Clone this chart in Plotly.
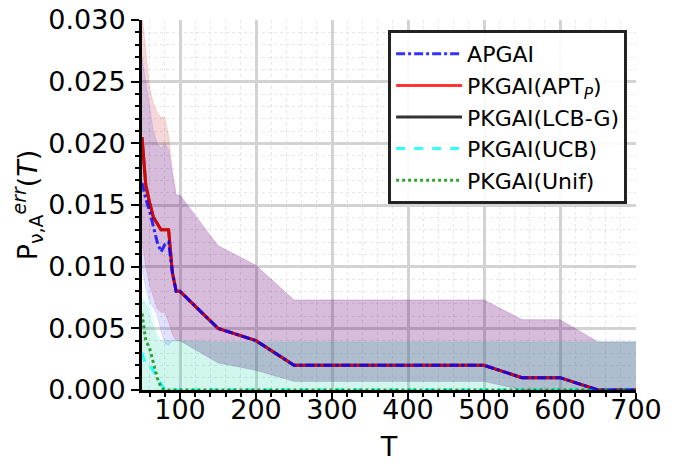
import plotly.graph_objects as go

# horizon T
T = [50, 55, 60, 65, 70, 75, 80, 85, 90, 95, 100,
     150, 200, 250, 300, 350, 400, 450, 500, 550, 600, 650, 700]

# mean error probability per algorithm
apgai = [0.0168, 0.0155, 0.0145, 0.0133, 0.0120, 0.0112, 0.0118, 0.0120, 0.0095, 0.0080, 0.0080,
         0.0050, 0.0040, 0.0020, 0.0020, 0.0020, 0.0020, 0.0020, 0.0020, 0.0010, 0.0010, 0.0, 0.0]
apt_p = [0.0205, 0.0166, 0.0152, 0.0140, 0.0135, 0.0130, 0.0130, 0.0130, 0.0095, 0.0080, 0.0080,
         0.0050, 0.0040, 0.0020, 0.0020, 0.0020, 0.0020, 0.0020, 0.0020, 0.0010, 0.0010, 0.0, 0.0]
lcb_g = [0.0205, 0.0166, 0.0152, 0.0140, 0.0135, 0.0130, 0.0130, 0.0130, 0.0095, 0.0080, 0.0080,
         0.0050, 0.0040, 0.0020, 0.0020, 0.0020, 0.0020, 0.0020, 0.0020, 0.0010, 0.0010, 0.0, 0.0]
ucb = [0.0030, 0.0020, 0.0020, 0.0016, 0.0011, 0.0005, 0.0, 0.0, 0.0, 0.0, 0.0,
       0.0, 0.0, 0.0, 0.0, 0.0, 0.0, 0.0, 0.0, 0.0, 0.0, 0.0, 0.0]
unif = [0.0062, 0.0040, 0.0034, 0.0022, 0.0010, 0.0002, 0.0, 0.0, 0.0, 0.0, 0.0,
        0.0, 0.0, 0.0, 0.0, 0.0, 0.0, 0.0, 0.0, 0.0, 0.0, 0.0, 0.0]

# spread bands (lower / upper)
apgai_lo = [0.0100, 0.0082, 0.0072, 0.0066, 0.0061, 0.0048, 0.0038, 0.0036, 0.0040, 0.0040, 0.0040,
            0.0022, 0.0016, 0.0007, 0.0007, 0.0007, 0.0007, 0.0007, 0.0007, 0.0, 0.0, 0.0, 0.0]
apgai_hi = [0.0270, 0.0250, 0.0228, 0.0210, 0.0200, 0.0196, 0.0200, 0.0195, 0.0175, 0.0158, 0.0158,
            0.0117, 0.0101, 0.0073, 0.0073, 0.0073, 0.0073, 0.0073, 0.0073, 0.0057, 0.0057, 0.0039, 0.0039]
apt_p_lo = [0.0120, 0.0100, 0.0085, 0.0075, 0.0066, 0.0063, 0.0063, 0.0055, 0.0045, 0.0040, 0.0040,
            0.0022, 0.0016, 0.0007, 0.0007, 0.0007, 0.0007, 0.0007, 0.0007, 0.0, 0.0, 0.0, 0.0]
apt_p_hi = [0.0305, 0.0275, 0.0245, 0.0232, 0.0225, 0.0221, 0.0221, 0.0206, 0.0178, 0.0158, 0.0158,
            0.0117, 0.0101, 0.0073, 0.0073, 0.0073, 0.0073, 0.0073, 0.0073, 0.0057, 0.0057, 0.0039, 0.0039]
lcb_g_lo = apt_p_lo
lcb_g_hi = apt_p_hi
ucb_lo = [0.0] * len(T)
ucb_hi = [0.0075, 0.0074, 0.0072, 0.0056, 0.0046, 0.0040, 0.0040, 0.0040, 0.0040, 0.0040, 0.0040,
          0.0039, 0.0039, 0.0039, 0.0039, 0.0039, 0.0039, 0.0039, 0.0039, 0.0039, 0.0039, 0.0039, 0.0039]
unif_lo = [0.0] * len(T)
unif_hi = [0.0073, 0.0070, 0.0060, 0.0050, 0.0042, 0.0040, 0.0040, 0.0040, 0.0040, 0.0040, 0.0040,
           0.0039, 0.0039, 0.0039, 0.0039, 0.0039, 0.0039, 0.0039, 0.0039, 0.0039, 0.0039, 0.0039, 0.0039]

FONT = "DejaVu Sans"

fig = go.Figure()

bands = [
    (apt_p_lo, apt_p_hi, "rgba(255,0,0,0.12)"),
    (lcb_g_lo, lcb_g_hi, "rgba(0,0,0,0.04)"),
    (apgai_lo, apgai_hi, "rgba(0,0,255,0.12)"),
    (ucb_lo, ucb_hi, "rgba(0,255,255,0.10)"),
    (unif_lo, unif_hi, "rgba(0,160,60,0.09)"),
]
for lo, hi, col in bands:
    fig.add_trace(go.Scatter(x=T, y=lo, mode="lines", line=dict(width=0.8, color=col),
                             showlegend=False, hoverinfo="skip"))
    fig.add_trace(go.Scatter(x=T, y=hi, mode="lines", line=dict(width=0.8, color=col),
                             fill="tonexty", fillcolor=col, showlegend=False, hoverinfo="skip"))

lines = [
    ("PKGAI(LCB-G)", lcb_g, "rgba(0,0,0,0.8)", "solid", 3),
    ("PKGAI(APT<sub><i>P</i></sub>)", apt_p, "rgba(255,0,0,0.8)", "solid", 2),
    ("PKGAI(UCB)", ucb, "rgba(0,255,255,0.8)", "dash", 4),
    ("PKGAI(Unif)", unif, "rgba(0,140,0,0.8)", "dot", 5),
    ("APGAI", apgai, "rgba(0,0,255,0.8)", "dashdot", 1),
]
for name, y, col, dash, rank in lines:
    fig.add_trace(go.Scatter(x=T, y=y, mode="lines", name=name, legendrank=rank,
                             line=dict(color=col, width=3, dash=dash)))

grid = dict(showgrid=True, gridcolor="#d3d3d3", gridwidth=3, zeroline=False,
            showline=True, linecolor="black", linewidth=3, automargin=False,
            ticks="outside", ticklen=8, tickwidth=1.5, tickcolor="black",
            ticklabeloverflow="allow",
            tickfont=dict(size=27, family=FONT, color="black"))

# the page body adds an 8px offset, so the figure is a bit smaller than the window
fig.update_layout(
    width=658, height=455,
    margin=dict(l=134, r=30, t=12, b=73),
    paper_bgcolor="white", plot_bgcolor="white",
    font=dict(family=FONT, color="black"),
    xaxis=dict(range=[50, 700], tick0=0, dtick=100, ticklabelstandoff=-14,
               title=dict(text="T", font=dict(size=27, family=FONT), standoff=13),
               minor=dict(dtick=20, tick0=0, showgrid=True, gridcolor="#e6e6e6",
                          griddash="dot", gridwidth=1, ticks="outside", ticklen=4,
                          tickcolor="black"),
               **grid),
    yaxis=dict(range=[0, 0.0300001], tick0=0, dtick=0.005, tickformat=".3f",
               title=dict(text="P<sub>ν,A</sub><sup><i>err</i></sup>(<i>T</i>)",
                          font=dict(size=27, family=FONT), standoff=6),
               minor=dict(dtick=0.001, tick0=0, showgrid=True, gridcolor="#e6e6e6",
                          griddash="dot", gridwidth=1, ticks="outside", ticklen=4,
                          tickcolor="black"),
               **grid),
    legend=dict(x=0.982, y=0.973, xanchor="right", yanchor="top",
                bgcolor="rgba(255,255,255,0.9)", bordercolor="#222", borderwidth=3,
                font=dict(size=22, family=FONT, color="black"),
                itemwidth=66, traceorder="normal"),
)

fig.write_html("out.html")
